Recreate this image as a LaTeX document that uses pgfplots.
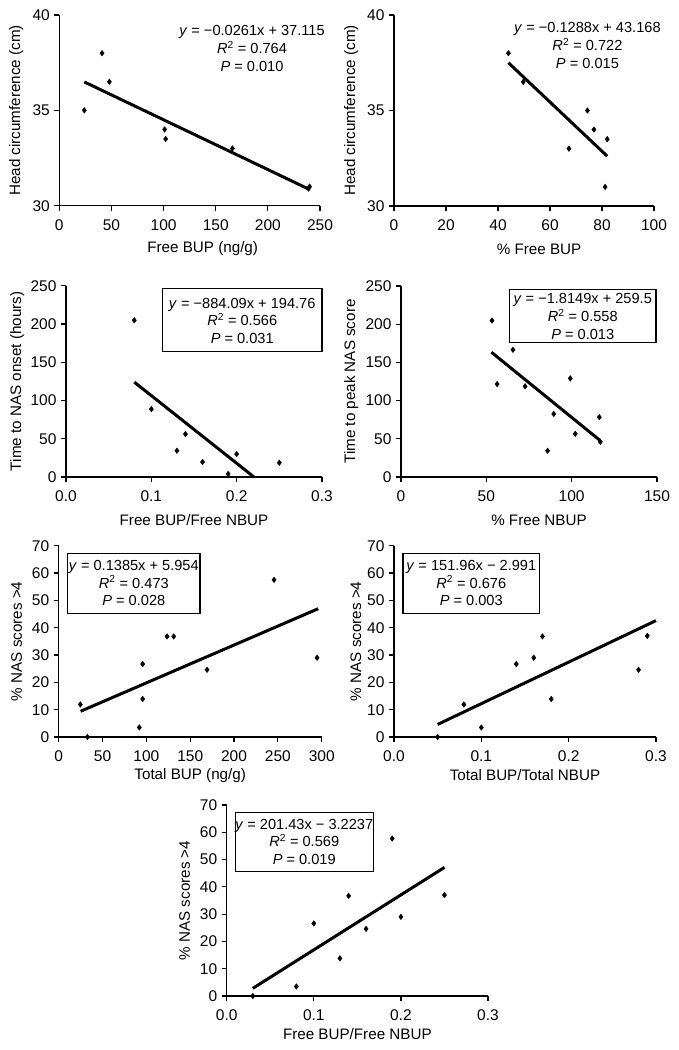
\documentclass[border=0pt]{standalone}
\usepackage{fontspec}
\setmainfont{Liberation Sans}
\usepackage{pgfplots}
\pgfplotsset{compat=1.18}

\newcommand{\fs}{\fontsize{14.6}{17.7}\selectfont}
\newcommand{\fl}{\fontsize{15.2}{18}\selectfont}
\newcommand{\ft}{\fontsize{15.5}{18}\selectfont}

\pgfplotsset{
  panel/.style={
    scale only axis, anchor=south west, clip=false,
    axis lines=left, axis line style={-, line width=1.2pt},
    tick align=outside, major tick length=5pt,
    tick style={black, line width=1.2pt},
    /pgf/number format/assume math mode=true,
    xticklabel style={font=\ft, yshift=-5pt},
    yticklabel style={font=\ft, xshift=-1pt},
    every axis plot/.append style={black},
  },
  xl/.style 2 args={xlabel style={font=\fl, at={(axis description cs:#1,#2)}, anchor=center}},
  yl/.style={ylabel style={font=\fl, at={(axis description cs:#1,0.5)}, anchor=center}},
  dec1/.style={xticklabel style={/pgf/number format/.cd, fixed, fixed zerofill, precision=1}},
  pts/.style={only marks, mark=diamond*, mark size=2.8pt},
  fit/.style={no marks, line width=3pt},
}

\begin{document}
\begin{tikzpicture}
\useasboundingbox (0pt,0pt) rectangle (678pt,-1050pt);

% row 1
\begin{axis}[panel, at={(59.3pt,-205.7pt)}, width=260.7pt, height=190.7pt,
  xmin=0, xmax=250, ymin=30, ymax=40, xtick={0,50,...,250}, ytick={30,35,40},
  xl={0.55}{-0.2255}, yl=-0.165,
  xlabel={Free BUP (ng/g)}, ylabel={Head circumference (cm)}]
  \addplot[pts] coordinates {(24,35) (41,38) (48,36.5) (101,34) (102,33.5) (166,33) (240,31) (239,30.9)};
  \addplot[fit] coordinates {(24,36.49) (240,30.85)};
  \node[font=\fs, align=center] at (axis cs:184.8,38.25)
    {\textit{y} = −0.0261x + 37.115\\ \textit{R}\textsuperscript{2} = 0.764\\ \textit{P} = 0.010};
\end{axis}

\begin{axis}[panel, at={(394pt,-206pt)}, width=260pt, height=191pt,
  xmin=0, xmax=100, ymin=30, ymax=40, xtick={0,20,...,100}, ytick={30,35,40},
  xl={0.558}{-0.225}, yl=-0.165,
  xlabel={\% Free BUP}, ylabel={Head circumference (cm)}]
  \addplot[pts] coordinates {(44,38) (49.7,36.5) (74.4,35) (76.9,34) (82,33.5) (67.3,33) (81.2,31)};
  \addplot[fit] coordinates {(44,37.50) (82,32.61)};
  \node[font=\fs, align=center] at (axis cs:74.4,38.4)
    {\textit{y} = −0.1288x + 43.168\\ \textit{R}\textsuperscript{2} = 0.722\\ \textit{P} = 0.015};
\end{axis}

% row 2
\begin{axis}[panel, dec1, at={(66pt,-477pt)}, width=256pt, height=191.3pt,
  xmin=0, xmax=0.3, ymin=0, ymax=250, xtick={0,0.1,0.2,0.3}, ytick={0,50,...,250},
  xl={0.5}{-0.225}, yl=-0.191,
  xlabel={Free BUP/Free NBUP}, ylabel={Time to NAS onset (hours)}]
  \addplot[pts] coordinates {(0.08,204.8) (0.10,88.7) (0.14,56.1) (0.13,34.3) (0.16,19.6) (0.19,3.9) (0.20,30) (0.25,18.7)};
  \addplot[fit] coordinates {(0.08,124.03) (0.22,0.26)};
  \draw[line width=1.1pt] (axis cs:0.113,246.5) rectangle (axis cs:0.3,163.9);
  \node[font=\fs, align=center] at (axis cs:0.2065,204)
    {\textit{y} = −884.09x + 194.76\\ \textit{R}\textsuperscript{2} = 0.566\\ \textit{P} = 0.031};
\end{axis}

\begin{axis}[panel, at={(401pt,-477pt)}, width=256pt, height=191pt,
  xmin=0, xmax=150, ymin=0, ymax=250, xtick={0,50,100,150}, ytick={0,50,...,250},
  xl={0.539}{-0.225}, yl=-0.195,
  xlabel={\% Free NBUP}, ylabel={Time to peak NAS score}]
  \addplot[pts] coordinates {(53.3,204.8) (65.6,166.5) (56.3,121.7) (72.7,118.7) (99.2,129.1) (89.5,82.6) (85.9,34.3) (102.1,56.5) (116.2,78.3) (116.8,46.1)};
  \addplot[fit] coordinates {(53,163.31) (116.5,48.06)};
  \draw[line width=1.1pt] (axis cs:63.5,245) rectangle (axis cs:149.4,175.7);
  \node[font=\fs, align=center] at (axis cs:106.5,210)
    {\textit{y} = −1.8149x + 259.5\\ \textit{R}\textsuperscript{2} = 0.558\\ \textit{P} = 0.013};
\end{axis}

% row 3
\begin{axis}[panel, at={(58.7pt,-737pt)}, width=263pt, height=191.3pt,
  xmin=0, xmax=300, ymin=0, ymax=70, xtick={0,50,...,300}, ytick={0,10,...,70},
  xl={0.5}{-0.199}, yl=-0.16,
  xlabel={Total BUP (ng/g)}, ylabel={\% NAS scores >4}]
  \addplot[pts] coordinates {(24.7,11.9) (32.7,0) (92,3.5) (95.8,13.9) (95.8,26.7) (123.6,36.8) (131.2,36.8) (169.2,24.6) (245.6,57.5) (294.7,29.0)};
  \addplot[fit] coordinates {(25,9.42) (296,46.95)};
  \draw[line width=1.1pt] (axis cs:10.3,67.2) rectangle (axis cs:161.2,45.3);
  \node[font=\fs, align=center] at (axis cs:85.7,56.3)
    {\textit{y} = 0.1385x + 5.954\\ \textit{R}\textsuperscript{2} = 0.473\\ \textit{P} = 0.028};
\end{axis}

\begin{axis}[panel, dec1, at={(394pt,-737pt)}, width=262pt, height=191.3pt,
  xmin=0, xmax=0.3, ymin=0, ymax=70, xtick={0,0.1,0.2,0.3}, ytick={0,10,...,70},
  xl={0.5}{-0.199}, yl=-0.145,
  xlabel={Total BUP/Total NBUP}, ylabel={\% NAS scores >4}]
  \addplot[pts] coordinates {(0.05,0) (0.08,11.9) (0.10,3.5) (0.14,26.7) (0.16,29.0) (0.17,36.8) (0.18,13.9) (0.28,24.6) (0.29,37.0)};
  \addplot[fit] coordinates {(0.05,4.61) (0.3,42.6)};
  \draw[line width=1.1pt] (axis cs:0.0103,67.2) rectangle (axis cs:0.1666,45.3);
  \node[font=\fs, align=center] at (axis cs:0.0885,56.3)
    {\textit{y} = 151.96x − 2.991\\ \textit{R}\textsuperscript{2} = 0.676\\ \textit{P} = 0.003};
\end{axis}

% row 4
\begin{axis}[panel, dec1, at={(226.7pt,-996pt)}, width=261.3pt, height=191pt,
  xmin=0, xmax=0.3, ymin=0, ymax=70, xtick={0,0.1,0.2,0.3}, ytick={0,10,...,70},
  xl={0.5}{-0.199}, yl=-0.161,
  xlabel={Free BUP/Free NBUP}, ylabel={\% NAS scores >4}]
  \addplot[pts] coordinates {(0.03,0) (0.08,3.5) (0.10,26.6) (0.13,13.8) (0.14,36.7) (0.16,24.6) (0.19,57.7) (0.20,29.0) (0.25,37.0)};
  \addplot[fit] coordinates {(0.03,2.82) (0.25,47.13)};
  \draw[line width=1.1pt] (axis cs:0.0096,67.2) rectangle (axis cs:0.169,45.8);
  \node[font=\fs, align=center] at (axis cs:0.089,56.5)
    {\textit{y} = 201.43x − 3.2237\\ \textit{R}\textsuperscript{2} = 0.569\\ \textit{P} = 0.019};
\end{axis}
\end{tikzpicture}
\end{document}
